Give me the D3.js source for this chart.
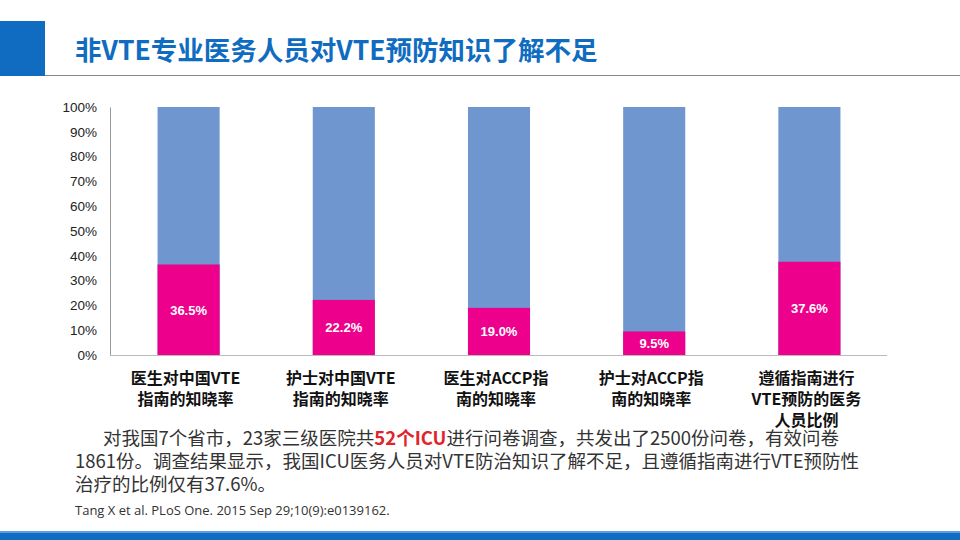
<!DOCTYPE html>
<html><head><meta charset="utf-8">
<script src="https://cdn.jsdelivr.net/npm/d3@7"></script>
<style>body{margin:0;background:#fff}svg{display:block;font-family:"Noto Sans CJK SC","Open Sans",sans-serif}</style>
</head><body><svg id="c" width="960" height="540"></svg>
<script>
var categories = [["医生对中国VTE","指南的知晓率"],["护士对中国VTE","指南的知晓率"],["医生对ACCP指","南的知晓率"],["护士对ACCP指","南的知晓率"],["遵循指南进行","VTE预防的医务","人员比例"]];
var known = [36.5, 22.2, 19.0, 9.5, 37.6];
var yTicks = [0,10,20,30,40,50,60,70,80,90,100];

var svg = d3.select("#c");
svg.append("rect").attr("x",0).attr("y",21).attr("width",45).attr("height",55).attr("fill","#0f6cc0");
svg.append("line").attr("x1",45).attr("x2",960).attr("y1",75.5).attr("y2",75.5).attr("stroke","#888");
svg.append("text").attr("x",75).attr("y",60).attr("fill","#0f6cc0").attr("font-size",26.5).attr("font-weight","bold").text("非VTE专业医务人员对VTE预防知识了解不足");
svg.append("rect").attr("x",0).attr("y",533).attr("width",960).attr("height",7).attr("fill","#0f6cc0");
svg.append("rect").attr("x",0).attr("y",531).attr("width",960).attr("height",2).attr("fill","#5aa0e0");

var x = d3.scaleBand().domain(d3.range(5)).range([111,887]).paddingInner(0.6).paddingOuter(0.3);
var y = d3.scaleLinear().domain([0,100]).range([355,107]);

var ax = svg.append("g").attr("transform","translate(110,0)")
  .call(d3.axisLeft(y).tickValues(yTicks).tickFormat(function(d){return d+"%";}).tickSize(0).tickPadding(13));
ax.select(".domain").attr("stroke","#999");
ax.selectAll("text").attr("font-family","Liberation Sans, Arial").attr("font-size",13.5).attr("fill","#222");

var g = svg.selectAll(".b").data(known).enter().append("g");
g.append("rect").attr("x",function(d,i){return x(i);}).attr("width",x.bandwidth())
  .attr("y",y(100)).attr("height",y(0)-y(100)).attr("fill","#7096cf");
g.append("rect").attr("x",function(d,i){return x(i);}).attr("width",x.bandwidth())
  .attr("y",function(d){return y(d);}).attr("height",function(d){return y(0)-y(d);}).attr("fill","#ec008c");
g.append("text").attr("x",function(d,i){return x(i)+x.bandwidth()/2;})
  .attr("y",function(d){return d<15 ? (y(d)+y(0))/2+5 : y(d/2)+5;})
  .attr("text-anchor","middle").attr("fill","#fff").attr("font-weight","bold").attr("font-size",13)
  .attr("font-family","Liberation Sans, Arial").text(function(d){return d.toFixed(1)+"%";});

svg.append("line").attr("x1",110).attr("x2",887).attr("y1",355.5).attr("y2",355.5).attr("stroke","#bbb");

categories.forEach(function(lines,i){
  var t = svg.append("text").attr("text-anchor","middle").attr("font-size",16).attr("font-weight","bold").attr("fill","#111");
  lines.forEach(function(l,j){
    t.append("tspan").attr("x",x(i)+x.bandwidth()/2 - 3).attr("y",384+j*21).text(l);
  });
});

var para = svg.append("text").attr("font-size",18.5).attr("fill","#333");
var p1 = para.append("tspan").attr("x",103).attr("y",445);
p1.append("tspan").text("对我国7个省市，23家三级医院共");
p1.append("tspan").attr("fill","#e0242b").attr("font-weight","bold").text("52个ICU");
p1.append("tspan").text("进行问卷调查，共发出了2500份问卷，有效问卷");
para.append("tspan").attr("x",75).attr("y",468).text("1861份。调查结果显示，我国ICU医务人员对VTE防治知识了解不足，且遵循指南进行VTE预防性");
para.append("tspan").attr("x",75).attr("y",491).text("治疗的比例仅有37.6%。");
svg.append("text").attr("x",75).attr("y",515).attr("font-size",13).attr("fill","#333")
  .attr("font-family","Open Sans, sans-serif").text("Tang X et al. PLoS One. 2015 Sep 29;10(9):e0139162.");
</script></body></html>
